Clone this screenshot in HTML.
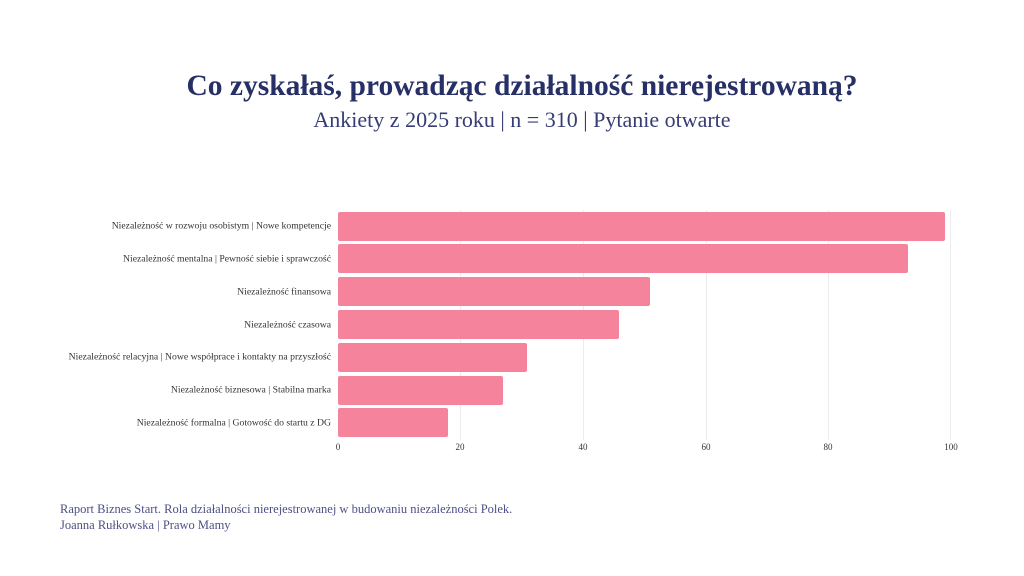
<!DOCTYPE html>
<html><head><meta charset="utf-8"><style>
body{margin:0;width:1024px;height:576px;background:#fff;font-family:"Liberation Serif",serif;overflow:hidden;position:relative}
.t{position:absolute;left:10px;width:1024px;text-align:center;color:#262f66}
.lab{position:absolute;right:693px;font-size:9.7px;color:#333;white-space:nowrap;transform:translateY(-50%)}
.bar{position:absolute;left:338px;height:29px;background:#f4839b;border-radius:2px}
.g{position:absolute;top:210px;height:230px;width:1px;background:#ececec}
.tk{position:absolute;top:442px;font-size:9px;color:#333;transform:translateX(-50%)}
.f{position:absolute;left:60px;font-size:12.5px;color:#4d4f85}
</style></head><body>
<div class="t" style="top:70px;font-size:29.5px;font-weight:bold">Co zyskałaś, prowadząc działalność nierejestrowaną?</div>
<div class="t" style="top:107px;font-size:22px;color:#363c74">Ankiety z 2025 roku | n = 310 | Pytanie otwarte</div>
<div class="g" style="left:460px"></div><div class="g" style="left:583px"></div><div class="g" style="left:706px"></div><div class="g" style="left:828px"></div><div class="g" style="left:950px"></div>
<div class="bar" style="top:212px;width:607px"></div>
<div class="bar" style="top:244px;width:570px"></div>
<div class="bar" style="top:277px;width:312px"></div>
<div class="bar" style="top:310px;width:281px"></div>
<div class="bar" style="top:343px;width:189px"></div>
<div class="bar" style="top:376px;width:165px"></div>
<div class="bar" style="top:408px;width:110px"></div>
<div class="lab" style="top:226px">Niezależność w rozwoju osobistym | Nowe kompetencje</div>
<div class="lab" style="top:259px">Niezależność mentalna | Pewność siebie i sprawczość</div>
<div class="lab" style="top:292px">Niezależność finansowa</div>
<div class="lab" style="top:325px">Niezależność czasowa</div>
<div class="lab" style="top:357px">Niezależność relacyjna | Nowe współprace i kontakty na przyszłość</div>
<div class="lab" style="top:390px">Niezależność biznesowa | Stabilna marka</div>
<div class="lab" style="top:423px">Niezależność formalna | Gotowość do startu z DG</div>
<div class="tk" style="left:338px">0</div><div class="tk" style="left:460px">20</div><div class="tk" style="left:583px">40</div><div class="tk" style="left:706px">60</div><div class="tk" style="left:828px">80</div><div class="tk" style="left:951px">100</div>
<div class="f" style="top:502px">Raport Biznes Start. Rola działalności nierejestrowanej w budowaniu niezależności Polek.</div>
<div class="f" style="top:518px">Joanna Rułkowska | Prawo Mamy</div>
</body></html>
